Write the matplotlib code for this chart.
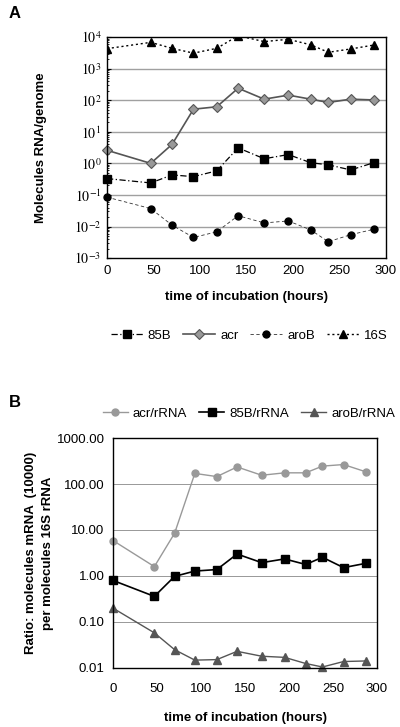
import math
import matplotlib
matplotlib.use('Agg')
import matplotlib.pyplot as plt
from matplotlib.ticker import FixedLocator, FuncFormatter, LogLocator, NullFormatter

plt.rcParams['font.family'] = ['Liberation Sans', 'DejaVu Sans']
plt.rcParams['mathtext.fontset'] = 'stix'

# time points (hours)
hours = [0, 47, 70, 93, 118, 141, 169, 195, 219, 238, 262, 287]

# panel A: molecules RNA per genome
a_85b = [0.33, 0.24, 0.43, 0.38, 0.58, 3.1, 1.4, 1.9, 1.05, 0.9, 0.62, 1.05]
a_acr = [2.6, 1.0, 4.0, 52, 62, 240, 108, 145, 108, 85, 108, 102]
a_arob = [0.085, 0.037, 0.011, 0.0045, 0.0068, 0.022, 0.013, 0.015, 0.0078, 0.0033, 0.0055, 0.0082]
a_16s = [4300, 6800, 4400, 3100, 4400, 11000, 7200, 8500, 5700, 3300, 4200, 5600]

# panel B: ratio mRNA (x10000) per 16S rRNA
b_acr = [5.9, 1.6, 8.5, 170, 145, 235, 155, 175, 175, 245, 265, 185]
b_85b = [0.80, 0.36, 0.98, 1.28, 1.38, 3.0, 1.95, 2.35, 1.78, 2.55, 1.52, 1.88]
b_arob = [0.20, 0.058, 0.025, 0.0148, 0.0152, 0.023, 0.018, 0.017, 0.0125, 0.0105, 0.0138, 0.0142]

fs = 9.5

fig = plt.figure(figsize=(4.0, 7.27), dpi=100)

# ---------- panel A ----------
axA = fig.add_axes([0.2675, 0.645, 0.6975, 0.304])
axA.set_yscale('log')
axA.set_ylim(1e-3, 1e4)
axA.set_xlim(0, 300)
for v in [1e-2, 1e-1, 1e0, 1e1, 1e2, 1e3]:
    axA.axhline(v, color='#a0a0a0', lw=1.0, zorder=0)

axA.plot(hours, a_85b, color='black', ls=(0, (5, 2, 1, 2)), lw=0.9, marker='s', ms=5.5,
         mfc='black', mec='black', label='85B', clip_on=False)
axA.plot(hours, a_acr, color='#555555', ls='-', lw=1.2, marker='D', ms=5.5,
         mfc='#999999', mec='#555555', mew=0.8, label='acr', clip_on=False)
axA.plot(hours, a_arob, color='#333333', ls=(0, (4, 3)), lw=0.6, marker='o', ms=5,
         mfc='black', mec='black', label='aroB', clip_on=False)
axA.plot(hours, a_16s, color='black', ls=(0, (1.5, 2)), lw=1.0, marker='^', ms=5.5,
         mfc='black', mec='black', label='16S')

axA.yaxis.set_major_locator(FixedLocator([1e-3, 1e-2, 1e-1, 1e0, 1e1, 1e2, 1e3, 1e4]))
axA.yaxis.set_major_formatter(FuncFormatter(lambda v, p: r'$10^{%d}$' % round(math.log10(v))))
axA.yaxis.set_minor_locator(LogLocator(base=10, subs=range(2, 10), numticks=20))
axA.yaxis.set_minor_formatter(NullFormatter())
axA.tick_params(axis='y', which='major', direction='in', length=3, labelsize=10, pad=4)
axA.tick_params(axis='y', which='minor', direction='in', length=1.5)
axA.set_xticks([0, 50, 100, 150, 200, 250, 300])
axA.tick_params(axis='x', length=0, labelsize=fs, pad=5)
for s in axA.spines.values():
    s.set_linewidth(1.0)
axA.set_ylabel('Molecules RNA/genome', fontsize=fs, fontweight='bold')
axA.yaxis.set_label_coords(-0.215, 0.5)
axA.set_xlabel('time of incubation (hours)', fontsize=fs, fontweight='bold', labelpad=10)
axA.legend(loc='center', bbox_to_anchor=(0.51, -0.35), ncol=4, frameon=False, fontsize=fs,
           handlelength=2.4, handletextpad=0.4, columnspacing=0.9)
fig.text(0.022, 0.982, 'A', fontsize=12, fontweight='bold', va='center')

# ---------- panel B ----------
axB = fig.add_axes([0.2825, 0.0812, 0.66, 0.3163])
axB.set_yscale('log')
axB.set_ylim(0.01, 1000)
axB.set_xlim(0, 300)
for v in [0.1, 1, 10, 100]:
    axB.axhline(v, color='#888888', lw=0.6, zorder=0)

axB.plot(hours, b_acr, color='#999999', lw=1.0, marker='o', ms=5, mfc='#999999', mec='#999999',
         label='acr/rRNA', clip_on=False)
axB.plot(hours, b_85b, color='black', lw=1.2, marker='s', ms=5.5, mfc='black', mec='black',
         label='85B/rRNA', clip_on=False)
axB.plot(hours, b_arob, color='#555555', lw=1.0, marker='^', ms=5.5, mfc='#555555', mec='#555555',
         label='aroB/rRNA', clip_on=False)

axB.yaxis.set_major_locator(FixedLocator([0.01, 0.1, 1, 10, 100, 1000]))
axB.yaxis.set_major_formatter(FuncFormatter(lambda v, p: '%.2f' % v))
axB.yaxis.set_minor_locator(FixedLocator([]))
axB.tick_params(axis='y', length=0, labelsize=fs, pad=6)
axB.set_xticks([0, 50, 100, 150, 200, 250, 300])
axB.tick_params(axis='x', length=0, labelsize=fs, pad=11)
for s in axB.spines.values():
    s.set_linewidth(1.0)
axB.set_ylabel('Ratio: molecules mRNA  (10000)\nper molecules 16S rRNA', fontsize=fs,
               fontweight='bold', linespacing=1.5)
axB.yaxis.set_label_coords(-0.225, 0.5)
axB.set_xlabel('time of incubation (hours)', fontsize=fs, fontweight='bold', labelpad=12)
axB.legend(loc='center', bbox_to_anchor=(0.515, 1.107), ncol=3, frameon=False, fontsize=fs,
           handlelength=1.9, handletextpad=0.4, columnspacing=0.9)
fig.text(0.022, 0.446, 'B', fontsize=12, fontweight='bold', va='center')

fig.savefig('out.png', dpi=100)
